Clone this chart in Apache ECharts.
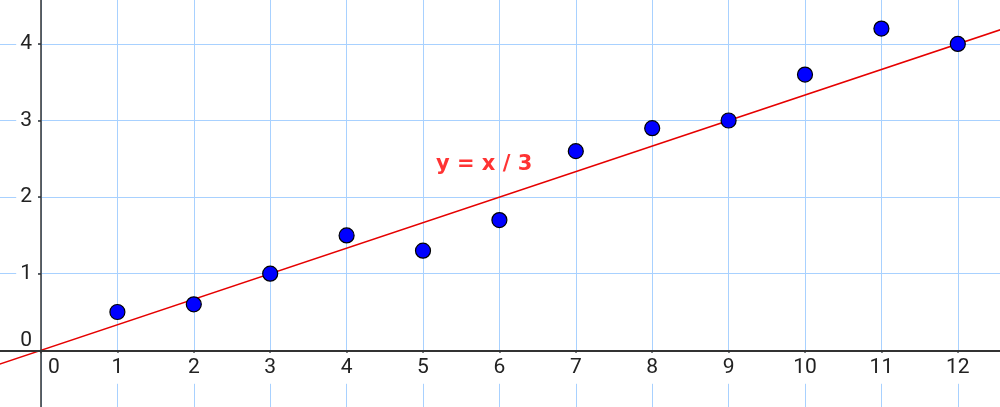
<!DOCTYPE html>
<html><head><meta charset="utf-8">
<script src="https://cdn.jsdelivr.net/npm/echarts@6/dist/echarts.min.js"></script>
<style>html,body{margin:0;padding:0;background:#fff}#c{width:1000px;height:407px}</style>
</head><body><div id="c"></div>
<script>
const xValues = [1,2,3,4,5,6,7,8,9,10,11,12];
const yValues = [0.5,0.6,1,1.5,1.3,1.7,2.6,2.9,3,3.6,4.2,4];
const lineX = [-1, 13];
const lineY = [-1/3, 13/3];
const eqLabel = 'y = x / 3';
const eqAnchor = [5.8, 2.43];
const xRange = [-1, 13];
const yRange = [-1, 5];

const chart = echarts.init(document.getElementById('c'));
const fontFam = 'Roboto, "Noto Sans", sans-serif';
const gridCol = '#a8d1ff';
const axisCol = '#333';

function xFmt(v){ return v === 0 ? '{z|0}' : '{n|' + v + '}'; }
function yFmt(v){ return v === 0 ? '{z|0}' : '{n|' + v + '}'; }

chart.setOption({
  animation: false,
  grid: {left: -35.4, top: -32.7, width: 1069.6, height: 459.6, containLabel: false, outerBoundsMode: 'none'},
  xAxis: [
    {type:'value', min:xRange[0], max:xRange[1], interval:1, z:5, position:'bottom', offset:-76.6,
     axisLine:{onZero:false, lineStyle:{color:axisCol, width:2}},
     axisTick:{show:true, length:3, lineStyle:{color:axisCol, width:1.5}},
     splitLine:{show:false},
     axisLabel:{margin:7, formatter:xFmt, color:'#222', fontSize:21, fontFamily:fontFam,
       rich:{
         n:{fontSize:21, fontFamily:fontFam, color:'#222', lineHeight:22, backgroundColor:'#fff', padding:[4,3,6,3]},
         z:{fontSize:21, fontFamily:fontFam, color:'#222', lineHeight:22, padding:[4,0,6,26]}
       }}},
    {type:'value', min:xRange[0], max:xRange[1], interval:1, z:0, position:'top',
     axisLine:{show:false}, axisTick:{show:false}, axisLabel:{show:false},
     splitLine:{show:true, lineStyle:{color:gridCol, width:1}}}
  ],
  yAxis: [
    {type:'value', min:yRange[0], max:yRange[1], interval:1, z:5, position:'left', offset:-76.4,
     axisLine:{onZero:false, lineStyle:{color:axisCol, width:1.5}},
     axisTick:{show:true, length:3, lineStyle:{color:axisCol, width:1.5}},
     splitLine:{show:false},
     axisLabel:{margin:3, formatter:yFmt, color:'#222', fontSize:21, fontFamily:fontFam,
       rich:{
         n:{fontSize:21, fontFamily:fontFam, color:'#222', lineHeight:22, backgroundColor:'#fff', padding:[0,6,0,4]},
         z:{fontSize:21, fontFamily:fontFam, color:'#222', lineHeight:22, padding:[0,6,20,4]}
       }}},
    {type:'value', min:yRange[0], max:yRange[1], interval:1, z:0, position:'right',
     axisLine:{show:false}, axisTick:{show:false}, axisLabel:{show:false},
     splitLine:{show:true, lineStyle:{color:gridCol, width:1}}}
  ],
  series: [
    {type:'line', xAxisIndex:0, yAxisIndex:0, z:3, symbol:'none', silent:true,
     lineStyle:{color:'#e60000', width:1.6},
     data: lineX.map((x,i)=>[x, lineY[i]])},
    {type:'scatter', xAxisIndex:0, yAxisIndex:0, z:4, symbol:'circle', symbolSize:15,
     itemStyle:{color:'#0000ff', borderColor:'#000', borderWidth:1.2, opacity:1},
     data: xValues.map((x,i)=>[x, yValues[i]])},
    {type:'scatter', xAxisIndex:0, yAxisIndex:0, z:4, symbolSize:0, silent:true,
     label:{show:true, position:'inside', formatter:eqLabel, color:'#ff0000', fontSize:21, fontWeight:'bold', fontFamily:'"DejaVu Sans", sans-serif'},
     data:[eqAnchor]}
  ]
});
</script></body></html>
